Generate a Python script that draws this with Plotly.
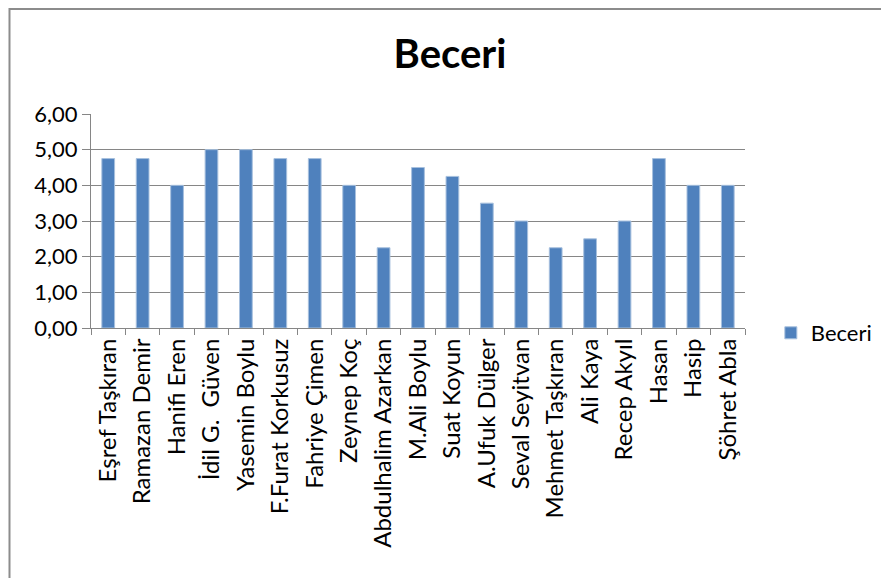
import plotly.graph_objects as go

# öğrenci adları ve beceri puanları
names = [
    "Eşref Taşkıran", "Ramazan Demir", "Hanifi Eren", "İdil G.  Güven",
    "Yasemin Boylu", "F.Furat Korkusuz", "Fahriye Çimen", "Zeynep Koç",
    "Abdulhalim Azarkan", "M.Ali Boylu", "Suat Koyun", "A.Ufuk Dülger",
    "Seval Seyitvan", "Mehmet Taşkıran", "Ali Kaya", "Recep Akyıl",
    "Hasan", "Hasip", "Şöhret Abla",
]
beceri = [
    4.75, 4.75, 4.00, 5.00, 5.00, 4.75, 4.75, 4.00, 2.25, 4.50,
    4.25, 3.50, 3.00, 2.25, 2.50, 3.00, 4.75, 4.00, 4.00,
]
y_ticks = [0, 1, 2, 3, 4, 5, 6]

# sayfa gövdesi 8px kenar boşluğu bırakıyor, onu hesaba kat
OFF = 8
W, H = 889 - OFF, 578 - OFF
L, T = 91 - OFF, 114 - OFF
R = W - (749 - OFF)
B = H - (328 - OFF)
pw, ph = W - L - R, H - T - B

fig = go.Figure()
fig.add_trace(
    go.Bar(
        x=names,
        y=beceri,
        name="Beceri",
        marker=dict(color="#4F81BD", line=dict(color="#A7C0DE", width=1)),
        width=0.37,
    )
)

# dış çerçeve (sol ve üst kenar)
fig.add_shape(
    type="rect",
    xref="paper",
    yref="paper",
    x0=(1 - L) / pw,
    x1=1.5,
    y0=-2,
    y1=1 + (T - 1) / ph,
    line=dict(color="#8C8C8C", width=2),
    fillcolor="rgba(0,0,0,0)",
)

fig.update_layout(
    width=W,
    height=H,
    margin=dict(l=L, r=R, t=T, b=B),
    paper_bgcolor="white",
    plot_bgcolor="white",
    separators=",.",
    font=dict(family="Lato, 'Open Sans', sans-serif", color="#000000"),
    title=dict(
        text="<b>Beceri</b>",
        x=(450 - OFF) / W,
        xanchor="center",
        y=1 - (54 - OFF) / H,
        yanchor="middle",
        font=dict(size=40, color="#000000"),
    ),
    showlegend=True,
    legend=dict(
        x=(775 - OFF - L) / pw,
        xanchor="left",
        y=(328 - 333) / ph,
        yanchor="middle",
        font=dict(size=22),
        bgcolor="rgba(0,0,0,0)",
        itemwidth=30,
    ),
    xaxis=dict(
        tickangle=-90,
        tickfont=dict(size=24),
        showline=True,
        linecolor="#868686",
        linewidth=1,
        ticks="outside",
        tickson="boundaries",
        ticklen=6,
        tickcolor="#868686",
        showgrid=False,
    ),
    yaxis=dict(
        range=[0, 6],
        tickvals=y_ticks,
        tickformat=".2f",
        tickfont=dict(size=22),
        showline=True,
        linecolor="#868686",
        linewidth=1,
        ticks="outside",
        ticklen=8,
        tickcolor="#868686",
        showgrid=True,
        gridcolor="#868686",
        gridwidth=1,
        zeroline=False,
    ),
)

fig.write_html("out.html")
